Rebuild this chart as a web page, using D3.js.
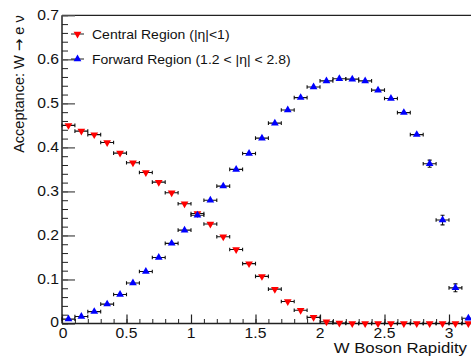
<!DOCTYPE html>
<html>
<head>
<meta charset="utf-8">
<script src="https://cdnjs.cloudflare.com/ajax/libs/d3/7.8.5/d3.min.js"></script>
<style>
  body { margin: 0; background: #fff; }
  svg { display: block; font-family: "Liberation Sans", Arial, sans-serif; }
</style>
</head>
<body>
<div id="chart"></div>
<script>
// bin centres, width 0.1
var binCentres = [0.05, 0.15, 0.25, 0.35, 0.45, 0.55, 0.65, 0.75, 0.85, 0.95,
                  1.05, 1.15, 1.25, 1.35, 1.45, 1.55, 1.65, 1.75, 1.85, 1.95,
                  2.05, 2.15, 2.25, 2.35, 2.45, 2.55, 2.65, 2.75, 2.85, 2.95,
                  3.05, 3.15];
var binHalfWidth = 0.05;

var centralValues = [0.450, 0.437, 0.429, 0.411, 0.387, 0.365, 0.343, 0.321, 0.297, 0.272,
                     0.250, 0.226, 0.197, 0.168, 0.136, 0.107, 0.078, 0.050, 0.030, 0.014,
                     0.004, 0.001, 0.0, 0.0, 0.0, 0.0, 0.0, 0.0, 0.0, 0.0,
                     0.0, 0.0];
var centralErrors = [0.002, 0.002, 0.002, 0.002, 0.002, 0.002, 0.002, 0.002, 0.002, 0.002,
                     0.002, 0.002, 0.002, 0.002, 0.002, 0.002, 0.002, 0.002, 0.001, 0.001,
                     0.001, 0.0, 0.0, 0.0, 0.0, 0.0, 0.0, 0.0, 0.0, 0.0,
                     0.0, 0.0];

var forwardValues = [0.010, 0.016, 0.027, 0.044, 0.066, 0.092, 0.118, 0.150, 0.182, 0.212,
                     0.246, 0.280, 0.312, 0.350, 0.386, 0.421, 0.455, 0.485, 0.513, 0.537,
                     0.551, 0.556, 0.555, 0.551, 0.530, 0.511, 0.479, 0.429, 0.363, 0.235,
                     0.081, 0.012];
var forwardErrors = [0.001, 0.001, 0.001, 0.002, 0.002, 0.002, 0.002, 0.002, 0.002, 0.002,
                     0.002, 0.002, 0.002, 0.002, 0.002, 0.002, 0.002, 0.002, 0.002, 0.002,
                     0.002, 0.002, 0.002, 0.002, 0.003, 0.003, 0.003, 0.004, 0.008, 0.011,
                     0.009, 0.004];

var yTicks = [0, 0.1, 0.2, 0.3, 0.4, 0.5, 0.6, 0.7];
var xTicks = [0, 0.5, 1, 1.5, 2, 2.5, 3];
var legendLabels = ["Central Region (|\u03b7|<1)", "Forward Region (1.2 < |\u03b7| < 2.8)"];

var width = 471, height = 356;
var plotLeft = 62, plotTop = 15.3, plotBottom = 323.5;
var stretch = 1.12; // horizontal text looks a bit wide in the reference

var x = d3.scaleLinear().domain([0, 3.2]).range([plotLeft, plotLeft + 3.2 * 129]);
var y = d3.scaleLinear().domain([0, 0.7]).range([plotBottom, plotTop]);

var svg = d3.select("#chart").append("svg")
    .attr("width", width).attr("height", height);

function hText(px, py, str, size, anchor) {
    return svg.append("text")
        .attr("transform", "translate(" + px + "," + py + ") scale(" + stretch + ",1)")
        .attr("text-anchor", anchor || "start")
        .style("font-size", size + "px")
        .attr("fill", "#111")
        .text(str);
}

// frame: top line
svg.append("line")
    .attr("x1", plotLeft).attr("x2", width)
    .attr("y1", plotTop).attr("y2", plotTop)
    .attr("stroke", "#222").attr("stroke-width", 1.3);

// y axis, ticks inside
var yAxis = d3.axisRight(y).tickValues(yTicks).tickSize(13).tickFormat("");
var yMinor = d3.axisRight(y).tickValues(d3.range(0, 0.7001, 0.02)).tickSize(6).tickFormat("");
svg.append("g").attr("transform", "translate(" + plotLeft + ",0)").call(yMinor)
    .call(function(g) { g.select(".domain").remove(); })
    .selectAll("line").attr("stroke", "#222");
svg.append("g").attr("transform", "translate(" + plotLeft + ",0)").call(yAxis)
    .call(function(g) { g.select(".domain").attr("stroke", "#222").attr("stroke-width", 1.5).attr("d", "M0," + plotTop + "V" + plotBottom); })
    .selectAll("line").attr("stroke", "#555").attr("stroke-width", 1.3);

// x axis, ticks inside (upward)
var xAxis = d3.axisTop(x).tickValues(xTicks).tickSize(9).tickFormat("");
var xMinor = d3.axisTop(x).tickValues(d3.range(0, 3.2001, 0.1)).tickSize(4.5).tickFormat("");
svg.append("g").attr("transform", "translate(0," + plotBottom + ")").call(xMinor)
    .call(function(g) { g.select(".domain").remove(); })
    .selectAll("line").attr("stroke", "#222");
svg.append("g").attr("transform", "translate(0," + plotBottom + ")").call(xAxis)
    .call(function(g) { g.select(".domain").attr("stroke", "#222").attr("stroke-width", 1.5).attr("d", "M" + plotLeft + ",0H" + width); })
    .selectAll("line").attr("stroke", "#222").attr("stroke-width", 1.2);

// tick labels
yTicks.forEach(function(t) {
    hText(plotLeft - 3, y(t) + (t === 0 ? 3 : 5), t === 0 ? "0" : d3.format(".1f")(t), 14, "end");
});
xTicks.forEach(function(t) {
    var lx = t === 0 ? x(t) + 1 : x(t);
    hText(lx, plotBottom + 14, t === 0 ? "0" : d3.format("~g")(t), 14, "middle");
});

// axis titles
hText(width - 4, 353, "W Boson Rapidity", 15, "end");
var yTitle = svg.append("text")
    .attr("transform", "translate(24," + plotTop + ") rotate(-90)")
    .attr("text-anchor", "end")
    .style("font-size", "14.5px")
    .attr("fill", "#111");
yTitle.append("tspan").text("Acceptance: W ");
yTitle.append("tspan").style("font-family", "DejaVu Sans").style("font-size", "15px").text("\u2192");
yTitle.append("tspan").text(" e \u03bd");

// data series
var series = [
    {values: centralValues, errors: centralErrors, color: "#ff0000", rot: 180},
    {values: forwardValues, errors: forwardErrors, color: "#0000ff", rot: 0}
];

var tri = d3.symbol().type(d3.symbolTriangle).size(26);

series.forEach(function(s) {
    var pts = binCentres.map(function(c, i) {
        return {x: c, y: s.values[i], e: s.errors[i]};
    });
    var g = svg.append("g");
    var eb = g.selectAll("g.eb").data(pts).enter().append("g").attr("class", "eb");
    eb.append("path")
        .attr("d", function(d) {
            var x0 = x(d.x - binHalfWidth), x1 = x(d.x + binHalfWidth), yy = y(d.y);
            var p = "M" + x0 + "," + yy + "H" + x1 +
                    "M" + x0 + "," + (yy - 1.8) + "V" + (yy + 1.8) +
                    "M" + x1 + "," + (yy - 1.8) + "V" + (yy + 1.8);
            if (y(d.y - d.e) - y(d.y + d.e) > 4) {
                var xc = x(d.x), ya = y(d.y + d.e), yb = y(d.y - d.e);
                p += "M" + xc + "," + ya + "V" + yb +
                     "M" + (xc - 2) + "," + ya + "H" + (xc + 2) +
                     "M" + (xc - 2) + "," + yb + "H" + (xc + 2);
            }
            return p;
        })
        .attr("fill", "none")
        .attr("stroke", "#111")
        .attr("stroke-width", 1.1);
    g.selectAll("path.mk").data(pts).enter().append("path")
        .attr("class", "mk")
        .attr("d", tri)
        .attr("transform", function(d) {
            return "translate(" + x(d.x) + "," + y(d.y) + ") rotate(" + s.rot + ")";
        })
        .attr("fill", s.color);
});

// legend
var legendY = [34, 59];
legendLabels.forEach(function(label, i) {
    svg.append("line")
        .attr("x1", 71).attr("x2", 84)
        .attr("y1", legendY[i]).attr("y2", legendY[i])
        .attr("stroke", "#333").attr("stroke-width", 1.1);
    svg.append("path")
        .attr("d", tri)
        .attr("transform", "translate(77.5," + legendY[i] + ") rotate(" + series[i].rot + ")")
        .attr("fill", series[i].color);
    hText(92, legendY[i] + 4.5, label, 12.5, "start");
});
</script>
</body>
</html>
